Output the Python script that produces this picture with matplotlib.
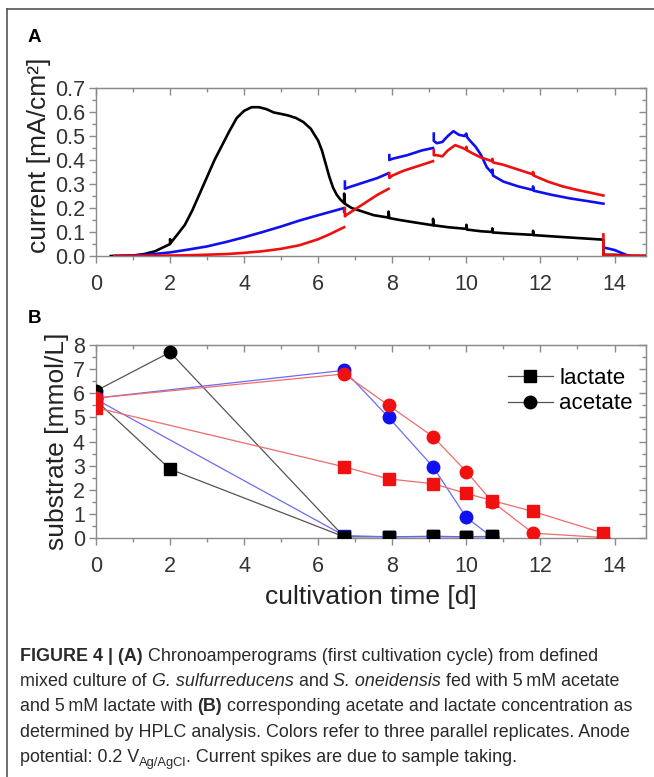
import numpy as np
import matplotlib
matplotlib.use("Agg")
import matplotlib.pyplot as plt
from matplotlib.lines import Line2D
from matplotlib.transforms import IdentityTransform
from matplotlib.ticker import MultipleLocator

plt.rcParams['font.family'] = ['Liberation Sans', 'DejaVu Sans']

# --- Panel A: chronoamperograms (NaN = gap between sampling segments) ---
t_black = [0.4, 1.0, 1.3, 1.6, 1.8, 2.0, 2.0, 2.02, 2.2, 2.4, 2.6, 2.8, 3.0, 3.2, 3.4,
           3.6, 3.8, 4.0, 4.2, 4.4, 4.6, 4.8, 5.0, 5.2, 5.4, 5.6, 5.8, 6.0, 6.1, 6.2,
           6.3, 6.4, 6.5, 6.6, 6.7, 6.7, 6.72, 6.9, 7.2, 7.5, 7.9, 7.9, 7.92, 8.2, 8.6,
           9.1, 9.1, 9.12, 9.5, 10.0, 10.0, 10.02, 10.4, 10.7, 10.7, 10.72, 11.2, 11.8,
           11.8, 11.82, 12.5, 13.0, 13.7, 13.7, 13.72, 14.0, 14.5, 14.9]
i_black = [0.0, 0.002, 0.008, 0.02, 0.035, 0.05, 0.07, 0.055, 0.09, 0.13, 0.19, 0.26,
           0.33, 0.40, 0.46, 0.52, 0.575, 0.605, 0.62, 0.62, 0.612, 0.598, 0.592, 0.585,
           0.575, 0.558, 0.53, 0.48, 0.44, 0.385, 0.33, 0.285, 0.255, 0.235, 0.22, 0.26,
           0.218, 0.20, 0.185, 0.17, 0.16, 0.185, 0.158, 0.15, 0.14, 0.128, 0.155, 0.128,
           0.12, 0.113, 0.13, 0.11, 0.103, 0.10, 0.115, 0.098, 0.093, 0.088, 0.105, 0.087,
           0.08, 0.075, 0.068, 0.002, 0.005, 0.005, 0.0, 0.0]

t_blue = [0.5, 1.0, 1.5, 2.0, 2.5, 3.0, 3.5, 4.0, 4.5, 5.0, 5.5, 6.0, 6.4, 6.7, 6.7, np.nan,
          6.72, 6.72, 6.8, 7.2, 7.6, 7.9, np.nan,
          7.92, 7.92, 8.0, 8.4, 8.8, 9.1, np.nan,
          9.12, 9.12, 9.2, 9.35, 9.5, 9.65, 9.8, 9.95, 10.0, 10.02, 10.1, 10.25, 10.4,
          10.55, 10.7, 10.7, 10.72, 11.0, 11.4, 11.8, 11.8, 11.82, 12.3, 12.8, 13.3, 13.7,
          np.nan, 13.72, 14.0, 14.2, 14.4, 14.9]
i_blue = [0.0, 0.002, 0.007, 0.015, 0.027, 0.04, 0.058, 0.078, 0.10, 0.123, 0.148, 0.17,
          0.187, 0.20, 0.185, np.nan,
          0.31, 0.28, 0.285, 0.305, 0.325, 0.345, np.nan,
          0.42, 0.40, 0.405, 0.42, 0.44, 0.45, np.nan,
          0.51, 0.48, 0.47, 0.475, 0.50, 0.52, 0.505, 0.50, 0.51, 0.495, 0.48, 0.455, 0.42,
          0.37, 0.345, 0.36, 0.335, 0.31, 0.29, 0.275, 0.29, 0.272, 0.255, 0.24, 0.228,
          0.218, np.nan, 0.035, 0.025, 0.012, 0.0, 0.0]

t_red = [0.5, 1.5, 2.5, 3.5, 4.0, 4.5, 5.0, 5.5, 6.0, 6.3, 6.5, 6.7, np.nan,
         6.72, 6.72, 6.75, 7.0, 7.3, 7.6, 7.9, np.nan,
         7.92, 7.92, 8.0, 8.3, 8.6, 9.1, np.nan,
         9.12, 9.12, 9.2, 9.35, 9.5, 9.7, 9.9, 10.0, 10.0, 10.02, 10.2, 10.4, 10.7, 10.7,
         10.72, 11.0, 11.4, 11.8, 11.8, 11.82, 12.2, 12.6, 13.0, 13.4, 13.7, np.nan,
         13.7, 13.7, 13.75, 14.2, 14.9]
i_red = [0.0, 0.001, 0.003, 0.008, 0.013, 0.02, 0.03, 0.045, 0.07, 0.09, 0.105, 0.12, np.nan,
         0.20, 0.165, 0.17, 0.195, 0.225, 0.255, 0.28, np.nan,
         0.345, 0.325, 0.335, 0.355, 0.37, 0.395, np.nan,
         0.44, 0.42, 0.42, 0.415, 0.44, 0.462, 0.45, 0.443, 0.455, 0.44, 0.425, 0.41,
         0.395, 0.405, 0.39, 0.38, 0.36, 0.34, 0.35, 0.335, 0.31, 0.29, 0.275, 0.262,
         0.252, np.nan, 0.09, 0.0, 0.003, 0.002, 0.0]

# --- Panel B: HPLC substrate concentrations ---
lac_black_t = [0, 2, 6.7, 7.9, 9.1, 10.0, 10.7]
lac_black = [5.7, 2.85, 0.05, 0.05, 0.07, 0.05, 0.07]
ace_black_t = [0, 2, 6.7]
ace_black = [6.1, 7.7, 0.05]

lac_blue_t = [0, 6.7, 7.9, 9.1, 10.0, 10.7]
lac_blue = [5.75, 0.1, 0.05, 0.05, 0.05, 0.05]
ace_blue_t = [0, 6.7, 7.9, 9.1, 10.0, 10.7]
ace_blue = [5.8, 6.95, 5.0, 2.95, 0.85, 0.03]

lac_red_t = [0, 6.7, 7.9, 9.1, 10.0, 10.7, 11.8, 13.7]
lac_red = [5.4, 2.95, 2.45, 2.25, 1.85, 1.55, 1.1, 0.2]
ace_red_t = [0, 6.7, 7.9, 9.1, 10.0, 10.7, 11.8, 13.7]
ace_red = [5.8, 6.8, 5.5, 4.2, 2.75, 1.5, 0.2, 0.02]

W, H = 654, 777
fig = plt.figure(figsize=(W / 100, H / 100), dpi=100)

spine_c = '#8a8a8a'
tick_c = '#333333'
label_size = 19
tick_size = 15.5


def style_axes(ax):
    for s in ax.spines.values():
        s.set_color(spine_c)
        s.set_linewidth(1.0)
    ax.tick_params(which='both', color=spine_c, labelcolor=tick_c, labelsize=tick_size)
    ax.tick_params(which='major', length=5, width=1, pad=3)
    ax.tick_params(which='minor', length=3, width=1)
    ax.tick_params(axis='x', which='both', direction='out', bottom=True, top=False)
    ax.tick_params(axis='x', which='major', pad=8)
    ax.tick_params(axis='y', which='both', direction='out', left=True, right=False)
    # inward ticks on top/right
    sx = ax.secondary_xaxis('top')
    sy = ax.secondary_yaxis('right')
    for sec in (sx, sy):
        sec.tick_params(which='both', direction='in', color=spine_c, labelleft=False,
                        labelright=False, labeltop=False, labelbottom=False)
        sec.tick_params(which='major', length=5, width=1)
        sec.tick_params(which='minor', length=3, width=1)
        for s in sec.spines.values():
            s.set_color(spine_c)
    return sx, sy


# Panel A
axA = fig.add_axes([96 / W, 1 - 256 / H, 550 / W, 168 / H])
axA.plot(t_black, i_black, color='black', lw=1.9, zorder=3)
axA.plot(t_blue, i_blue, color='#1010ee', lw=1.9, zorder=4)
axA.plot(t_red, i_red, color='#ee1010', lw=1.9, zorder=5)
axA.set_xlim(0, 14.85)
axA.set_ylim(0, 0.7)
axA.xaxis.set_major_locator(MultipleLocator(2))
axA.xaxis.set_minor_locator(MultipleLocator(1))
axA.yaxis.set_major_locator(MultipleLocator(0.1))
axA.yaxis.set_minor_locator(MultipleLocator(0.05))
axA.yaxis.set_major_formatter(plt.FuncFormatter(lambda v, p: f"{v:.1f}"))
sx, sy = style_axes(axA)
sx.xaxis.set_major_locator(MultipleLocator(2))
sx.xaxis.set_minor_locator(MultipleLocator(1))
sy.yaxis.set_major_locator(MultipleLocator(0.1))
sy.yaxis.set_minor_locator(MultipleLocator(0.05))
axA.set_ylabel('current [mA/cm²]', fontsize=label_size, color='#222222', labelpad=2)
axA.yaxis.set_label_coords(-0.082, 0.6)

# Panel B
axB = fig.add_axes([96 / W, 1 - 538 / H, 550 / W, 193 / H])
style_b = [
    (lac_black_t, lac_black, ace_black_t, ace_black, 'black', '#555555'),
    (lac_blue_t, lac_blue, ace_blue_t, ace_blue, '#1010f0', '#6b6bf5'),
    (lac_red_t, lac_red, ace_red_t, ace_red, '#f01010', '#f06b6b'),
]
for k, (lt, lv, at, av, mc, lc) in enumerate(style_b):
    z = 3 + k
    axB.plot(lt, lv, color=lc, lw=0.9, zorder=z)
    axB.plot(at, av, color=lc, lw=0.9, zorder=z)
    axB.plot(lt, lv, ls='none', marker='s', ms=8.5, color=mc, mec=mc, zorder=z + 0.5)
    axB.plot(at, av, ls='none', marker='o', ms=9, color=mc, mec=mc, zorder=z + 0.5)
# black lactate squares on the zero line sit on top
axB.plot(lac_black_t[2:], lac_black[2:], ls='none', marker='s', ms=8.5, color='black', zorder=7)
axB.set_xlim(0, 14.85)
axB.set_ylim(0, 8)
axB.xaxis.set_major_locator(MultipleLocator(2))
axB.xaxis.set_minor_locator(MultipleLocator(1))
axB.yaxis.set_major_locator(MultipleLocator(1))
axB.yaxis.set_minor_locator(MultipleLocator(0.5))
sx, sy = style_axes(axB)
sx.xaxis.set_major_locator(MultipleLocator(2))
sx.xaxis.set_minor_locator(MultipleLocator(1))
sy.yaxis.set_major_locator(MultipleLocator(1))
sy.yaxis.set_minor_locator(MultipleLocator(0.5))
axB.set_ylabel('substrate [mmol/L]', fontsize=label_size, color='#222222', labelpad=3)
axB.set_xlabel('cultivation time [d]', fontsize=label_size, color='#222222', labelpad=6)

handles = [Line2D([], [], color='#555555', lw=0.9, marker='s', ms=8.5, mfc='black', mec='black'),
           Line2D([], [], color='#555555', lw=0.9, marker='o', ms=9, mfc='black', mec='black')]
axB.legend(handles, ['lactate', 'acetate'], loc='upper right', frameon=False, fontsize=16,
           handlelength=2.0, handletextpad=0.3, labelspacing=0.2,
           bbox_to_anchor=(1.0, 0.95), borderaxespad=0.2)

# panel letters
fig.text(28 / W, 1 - 38 / H, 'A', fontsize=13.5, fontweight='bold', va='center')
fig.text(28 / W, 1 - 318 / H, 'B', fontsize=13.5, fontweight='bold', va='center')

# frame lines of the figure box
fig.add_artist(Line2D([7 / W, 1], [1 - 9 / H, 1 - 9 / H], color='#555555', lw=1.2))
fig.add_artist(Line2D([7 / W, 7 / W], [0, 1 - 9 / H], color='#555555', lw=1.2))

# caption with mixed styles
fig.canvas.draw()
renderer = fig.canvas.get_renderer()
cap_size = 12.9
cap_c = '#2a2a2a'


def rich_line(x, y, pieces):
    for txt, st in pieces:
        kw = dict(fontsize=cap_size, color=cap_c, va='baseline', ha='left')
        yy = y
        if st == 'b':
            kw['fontweight'] = 'bold'
        elif st == 'i':
            kw['fontstyle'] = 'italic'
        elif st == 'sub':
            kw['fontsize'] = cap_size * 0.72
            yy = y - 4
        t = fig.text(x, yy, txt, transform=IdentityTransform(), **kw)
        bb = t.get_window_extent(renderer)
        x = bb.x1


caption = [
    [("FIGURE 4 | (A)", 'b'), (" Chronoamperograms (first cultivation cycle) from defined", 'n')],
    [("mixed culture of ", 'n'), ("G. sulfurreducens", 'i'), (" and ", 'n'),
     ("S. oneidensis", 'i'), (" fed with 5\u2009mM acetate", 'n')],
    [("and 5\u2009mM lactate with ", 'n'), ("(B)", 'b'),
     (" corresponding acetate and lactate concentration as", 'n')],
    [("determined by HPLC analysis. Colors refer to three parallel replicates. Anode", 'n')],
    [("potential: 0.2 V", 'n'), ("Ag/AgCl", 'sub'),
     (". Current spikes are due to sample taking.", 'n')],
]
base_y = [661, 686, 711, 737, 762]
for line, yb in zip(caption, base_y):
    rich_line(20, H - yb, line)

fig.savefig('out.png', dpi=100)
